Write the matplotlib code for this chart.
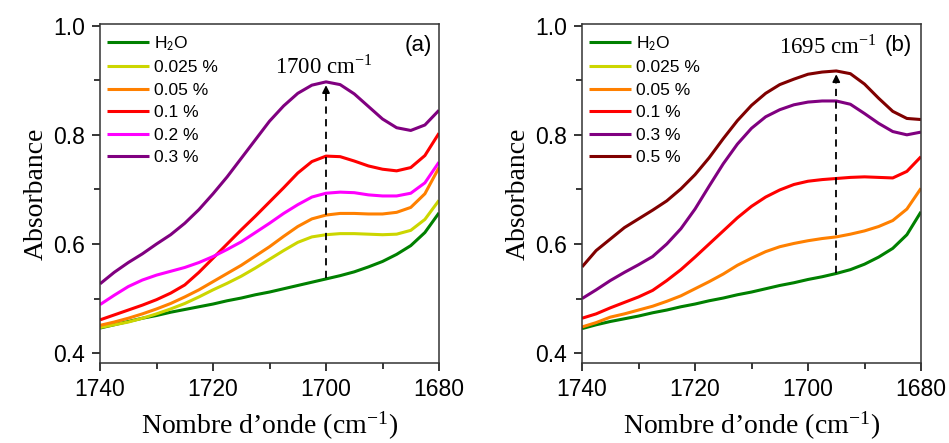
import numpy as np
import matplotlib.pyplot as plt

# wavenumber grid (cm-1), same for every spectrum
wavenumber = np.arange(1740, 1679, -2.5)

# panel (a)
a_h2o = [0.446, 0.452, 0.458, 0.464, 0.469, 0.475, 0.480, 0.485, 0.490, 0.496, 0.501, 0.507, 0.512,
         0.518, 0.524, 0.530, 0.536, 0.542, 0.549, 0.558, 0.568, 0.581, 0.597, 0.621, 0.657]
a_0025 = [0.447, 0.452, 0.457, 0.464, 0.472, 0.481, 0.491, 0.503, 0.516, 0.528, 0.541, 0.556, 0.572,
          0.588, 0.603, 0.613, 0.617, 0.619, 0.619, 0.618, 0.617, 0.618, 0.625, 0.645, 0.680]
a_005 = [0.451, 0.457, 0.464, 0.472, 0.481, 0.491, 0.503, 0.516, 0.531, 0.546, 0.561, 0.578, 0.595,
         0.614, 0.632, 0.646, 0.653, 0.656, 0.656, 0.655, 0.655, 0.658, 0.667, 0.692, 0.740]
a_01 = [0.461, 0.470, 0.479, 0.488, 0.498, 0.510, 0.525, 0.548, 0.574, 0.600, 0.626, 0.651, 0.677,
        0.703, 0.730, 0.751, 0.761, 0.760, 0.752, 0.743, 0.737, 0.734, 0.740, 0.762, 0.803]
a_02 = [0.489, 0.506, 0.522, 0.534, 0.543, 0.550, 0.557, 0.566, 0.577, 0.590, 0.604, 0.621, 0.638,
        0.656, 0.672, 0.686, 0.693, 0.695, 0.694, 0.690, 0.688, 0.688, 0.693, 0.712, 0.750]
a_03 = [0.527, 0.548, 0.566, 0.582, 0.600, 0.617, 0.638, 0.663, 0.692, 0.723, 0.757, 0.791, 0.825,
        0.853, 0.876, 0.891, 0.897, 0.892, 0.875, 0.852, 0.829, 0.813, 0.808, 0.818, 0.845]

# panel (b)
b_h2o = [0.445, 0.452, 0.458, 0.463, 0.468, 0.474, 0.479, 0.485, 0.490, 0.496, 0.501, 0.507, 0.512,
         0.518, 0.524, 0.529, 0.535, 0.540, 0.546, 0.553, 0.563, 0.576, 0.592, 0.617, 0.659]
b_005 = [0.448, 0.456, 0.466, 0.472, 0.479, 0.486, 0.495, 0.505, 0.518, 0.531, 0.545, 0.561, 0.574,
         0.586, 0.595, 0.601, 0.606, 0.610, 0.613, 0.618, 0.624, 0.632, 0.643, 0.664, 0.702]
b_01 = [0.464, 0.472, 0.483, 0.493, 0.503, 0.515, 0.533, 0.553, 0.576, 0.600, 0.624, 0.648, 0.669,
        0.686, 0.699, 0.709, 0.715, 0.718, 0.720, 0.722, 0.723, 0.722, 0.721, 0.733, 0.760]
b_03 = [0.500, 0.516, 0.533, 0.548, 0.562, 0.577, 0.600, 0.628, 0.664, 0.706, 0.747, 0.783, 0.812,
        0.833, 0.846, 0.855, 0.860, 0.862, 0.862, 0.856, 0.839, 0.821, 0.806, 0.800, 0.805]
b_05 = [0.558, 0.588, 0.609, 0.630, 0.646, 0.662, 0.679, 0.701, 0.727, 0.758, 0.793, 0.826, 0.854,
        0.876, 0.892, 0.902, 0.911, 0.915, 0.917, 0.912, 0.893, 0.867, 0.843, 0.830, 0.828]

colors = {'H2O': '#008000', '0.025': '#CCD600', '0.05': '#FF8000', '0.1': '#FF0000',
          '0.2': '#FF00FF', '0.3': '#800080', '0.5': '#800000'}

# arrows: (x, base, tip)
arrow_a = (1700, 0.537, 0.896)
arrow_b = (1695, 0.547, 0.916)

plt.rcParams['font.family'] = 'Liberation Sans'
plt.rcParams['mathtext.fontset'] = 'stix'

fig = plt.figure(figsize=(9.49, 4.43), dpi=100)
ax1 = fig.add_axes([0.1054, 0.1806, 0.3572, 0.7652])
ax2 = fig.add_axes([0.6133, 0.1806, 0.3572, 0.7652])

lw = 2.2
kw = dict(lw=lw, solid_joinstyle='round', solid_capstyle='butt')
ax1.plot(wavenumber, a_h2o, color=colors['H2O'], label='H$_2$O', **kw)
ax1.plot(wavenumber, a_0025, color=colors['0.025'], label='0.025 %', **kw)
ax1.plot(wavenumber, a_005, color=colors['0.05'], label='0.05 %', **kw)
ax1.plot(wavenumber, a_01, color=colors['0.1'], label='0.1 %', **kw)
ax1.plot(wavenumber, a_02, color=colors['0.2'], label='0.2 %', **kw)
ax1.plot(wavenumber, a_03, color=colors['0.3'], label='0.3 %', **kw)

ax2.plot(wavenumber, b_h2o, color=colors['H2O'], label='H$_2$O', **kw)
ax2.plot([], [], color=colors['0.025'], label='0.025 %', **kw)
ax2.plot(wavenumber, b_005, color=colors['0.05'], label='0.05 %', **kw)
ax2.plot(wavenumber, b_01, color=colors['0.1'], label='0.1 %', **kw)
ax2.plot(wavenumber, b_03, color=colors['0.3'], label='0.3 %', **kw)
ax2.plot(wavenumber, b_05, color=colors['0.5'], label='0.5 %', **kw)

sup = r'cm$^{\mathregular{-1}}$'
# (axis, arrow, label, label x, label y, label alignment, tag, tag x)
panels = [(ax1, arrow_a, '1700 ' + sup, 1709.1, 0.925, 'left', '(a)', 0.938),
          (ax2, arrow_b, '1695 ' + sup, 1687.9, 0.961, 'right', '(b)', 0.932)]

for ax, arr, txt, tx, ty, tha, tag, tag_x in panels:
    x, base, tip = arr
    ax.plot([x, x], [base, tip - 0.015], color='black', lw=1.3, ls=(0, (4, 3)))
    ax.annotate('', xy=(x, tip), xytext=(x, tip - 0.02),
                arrowprops=dict(arrowstyle='-|>', color='black', lw=1.2, mutation_scale=11))
    ax.text(tx, ty, txt, family='Liberation Serif', fontsize=16.5, ha=tha, va='center')
    ax.text(tag_x, 0.938, tag, transform=ax.transAxes, fontsize=16, ha='center', va='center')

    ax.set_xlim(1740, 1680)
    ax.set_ylim(0.382, 1.003)
    ax.set_xticks([1740, 1720, 1700, 1680])
    ax.set_xticks([1730, 1710, 1690], minor=True)
    ax.set_yticks([0.4, 0.6, 0.8, 1.0])
    ax.set_yticks([0.5, 0.7, 0.9], minor=True)
    ax.tick_params(which='major', direction='out', length=6, width=1.1, labelsize=16.5, pad=5)
    ax.tick_params(which='minor', direction='out', length=4, width=1.1)
    for s in ax.spines.values():
        s.set_linewidth(1.1)
        s.set_color('#333333')
    ax.set_xlabel('Nombre d\u2019onde (cm$^{\\mathregular{-1}}$)', family='Liberation Serif',
                  fontsize=20, labelpad=6)
    ax.set_ylabel('Absorbance', family='Liberation Serif', fontsize=20, labelpad=3)

    leg = ax.legend(loc='upper left', bbox_to_anchor=(-0.01, 1.0), frameon=False, fontsize=12.5,
                    handlelength=2.4, handletextpad=0.3, labelspacing=0.42,
                    borderaxespad=0.2, borderpad=0.4)
    for t in leg.get_texts():
        t.set_math_fontfamily('stixsans')

fig.savefig('out.png', dpi=100)
